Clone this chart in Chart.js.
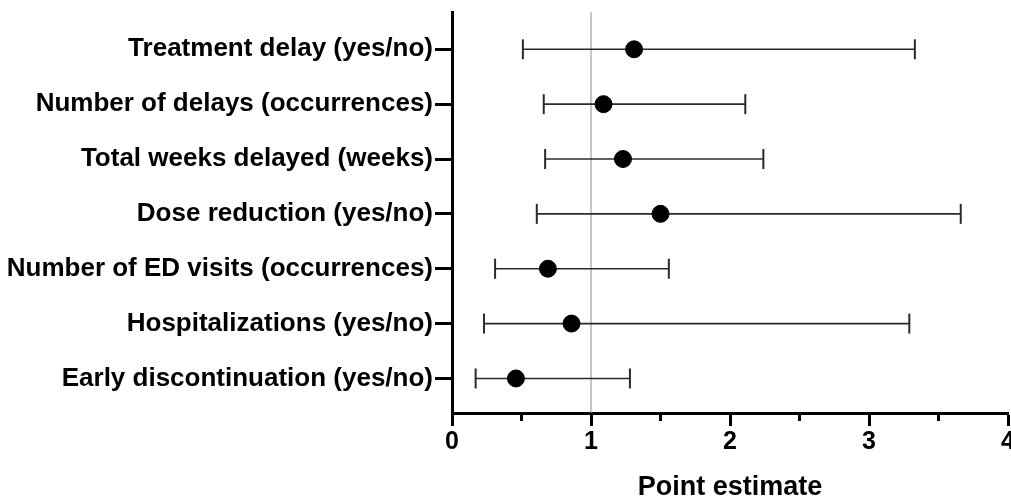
<!DOCTYPE html>
<html>
<head>
<meta charset="utf-8">
<script src="https://cdn.jsdelivr.net/npm/chart.js@4"></script>
<style>
  html, body { margin: 0; padding: 0; background: #fff; }
  #wrap { width: 1011px; height: 501px; }
</style>
</head>
<body>
<div id="wrap"><canvas id="myChart" width="1011" height="501"></canvas></div>
<script>
// outcomes, top to bottom
const categories = [
  "Treatment delay (yes/no)",
  "Number of delays (occurrences)",
  "Total weeks delayed (weeks)",
  "Dose reduction (yes/no)",
  "Number of ED visits (occurrences)",
  "Hospitalizations (yes/no)",
  "Early discontinuation (yes/no)"
];
const estimates = [1.31, 1.09, 1.23, 1.50, 0.69, 0.86, 0.46];
const lowerCI   = [0.51, 0.66, 0.67, 0.61, 0.31, 0.23, 0.17];
const upperCI   = [3.33, 2.11, 2.24, 3.66, 1.56, 3.29, 1.28];
const xTicks = [0, 1, 2, 3, 4];
const minorTicks = [0.5, 1.5, 2.5, 3.5];
const refValue = 1;

const n = categories.length;
const rowY = i => n - i;   // row 0 on top
const yMin = 0.37, yMax = 7.68;

const FONT = "'Liberation Sans', Arial, Helvetica, sans-serif";

// one line dataset per confidence interval, caps drawn as rotated line points
const ciDatasets = categories.map((c, i) => ({
  type: "line",
  label: c,
  data: [{ x: lowerCI[i], y: rowY(i) }, { x: upperCI[i], y: rowY(i) }],
  borderColor: "#2a2a2a",
  borderWidth: 1.6,
  pointStyle: "line",
  rotation: 90,
  pointRadius: 10,
  pointBorderWidth: 2,
  pointBorderColor: "#2a2a2a",
  pointHoverRadius: 10,
  clip: false,
  order: 1
}));

const pointDataset = {
  type: "scatter",
  label: "Point estimate",
  data: estimates.map((v, i) => ({ x: v, y: rowY(i) })),
  backgroundColor: "#000",
  borderColor: "#000",
  pointRadius: 8.5,
  pointHoverRadius: 8.5,
  clip: false,
  order: 0
};

const refDataset = {
  type: "line",
  label: "ref",
  data: [{ x: refValue, y: yMin }, { x: refValue, y: yMax }],
  borderColor: "#8c8c8c",
  borderWidth: 1,
  pointRadius: 0,
  order: 2
};

// short minor ticks on the x axis
const minorTickPlugin = {
  id: "minorTicks",
  afterDraw(chart) {
    const x = chart.scales.x;
    const ctx = chart.ctx;
    ctx.save();
    ctx.strokeStyle = "#000";
    ctx.lineWidth = 3;
    minorTicks.forEach(v => {
      const px = x.getPixelForValue(v);
      ctx.beginPath();
      ctx.moveTo(px, chart.chartArea.bottom);
      ctx.lineTo(px, chart.chartArea.bottom + 8);
      ctx.stroke();
    });
    ctx.restore();
  }
};

const ctx = document.getElementById("myChart").getContext("2d");
const myChart = new Chart(ctx, {
  data: { datasets: [pointDataset, ...ciDatasets, refDataset] },
  options: {
    responsive: false,
    animation: false,
    layout: { autoPadding: false, padding: { top: 12, right: 3, left: 0, bottom: 0 } },
    plugins: {
      legend: { display: false },
      tooltip: { enabled: false }
    },
    scales: {
      x: {
        type: "linear",
        min: 0,
        max: 4,
        afterBuildTicks: s => { s.ticks = xTicks.map(v => ({ value: v })); },
        ticks: {
          color: "#000",
          font: { family: FONT, size: 25, weight: "bold" },
          padding: 1,
          maxRotation: 0
        },
        grid: {
          drawOnChartArea: false,
          tickLength: 13,
          tickWidth: 3,
          tickColor: "#000"
        },
        border: { color: "#000", width: 3 },
        title: {
          display: true,
          text: "Point estimate",
          color: "#000",
          font: { family: FONT, size: 27, weight: "bold" },
          padding: { top: 17, bottom: -3 }
        },
        afterFit: s => { s.height = 88; s.paddingLeft = 0; s.paddingRight = 0; }
      },
      y: {
        type: "linear",
        min: yMin,
        max: yMax,
        afterBuildTicks: s => { s.ticks = categories.map((c, i) => ({ value: rowY(i) })); },
        ticks: {
          color: "#000",
          font: { family: FONT, size: 26, weight: "bold" },
          padding: 2,
          callback: v => categories[n - v]
        },
        grid: {
          drawOnChartArea: false,
          tickLength: 17,
          tickWidth: 3,
          tickColor: "#000"
        },
        border: { color: "#000", width: 3 },
        afterFit: s => { s.width = 452; s.paddingTop = 0; s.paddingBottom = 0; }
      }
    }
  },
  plugins: [minorTickPlugin]
});
</script>
</body>
</html>
